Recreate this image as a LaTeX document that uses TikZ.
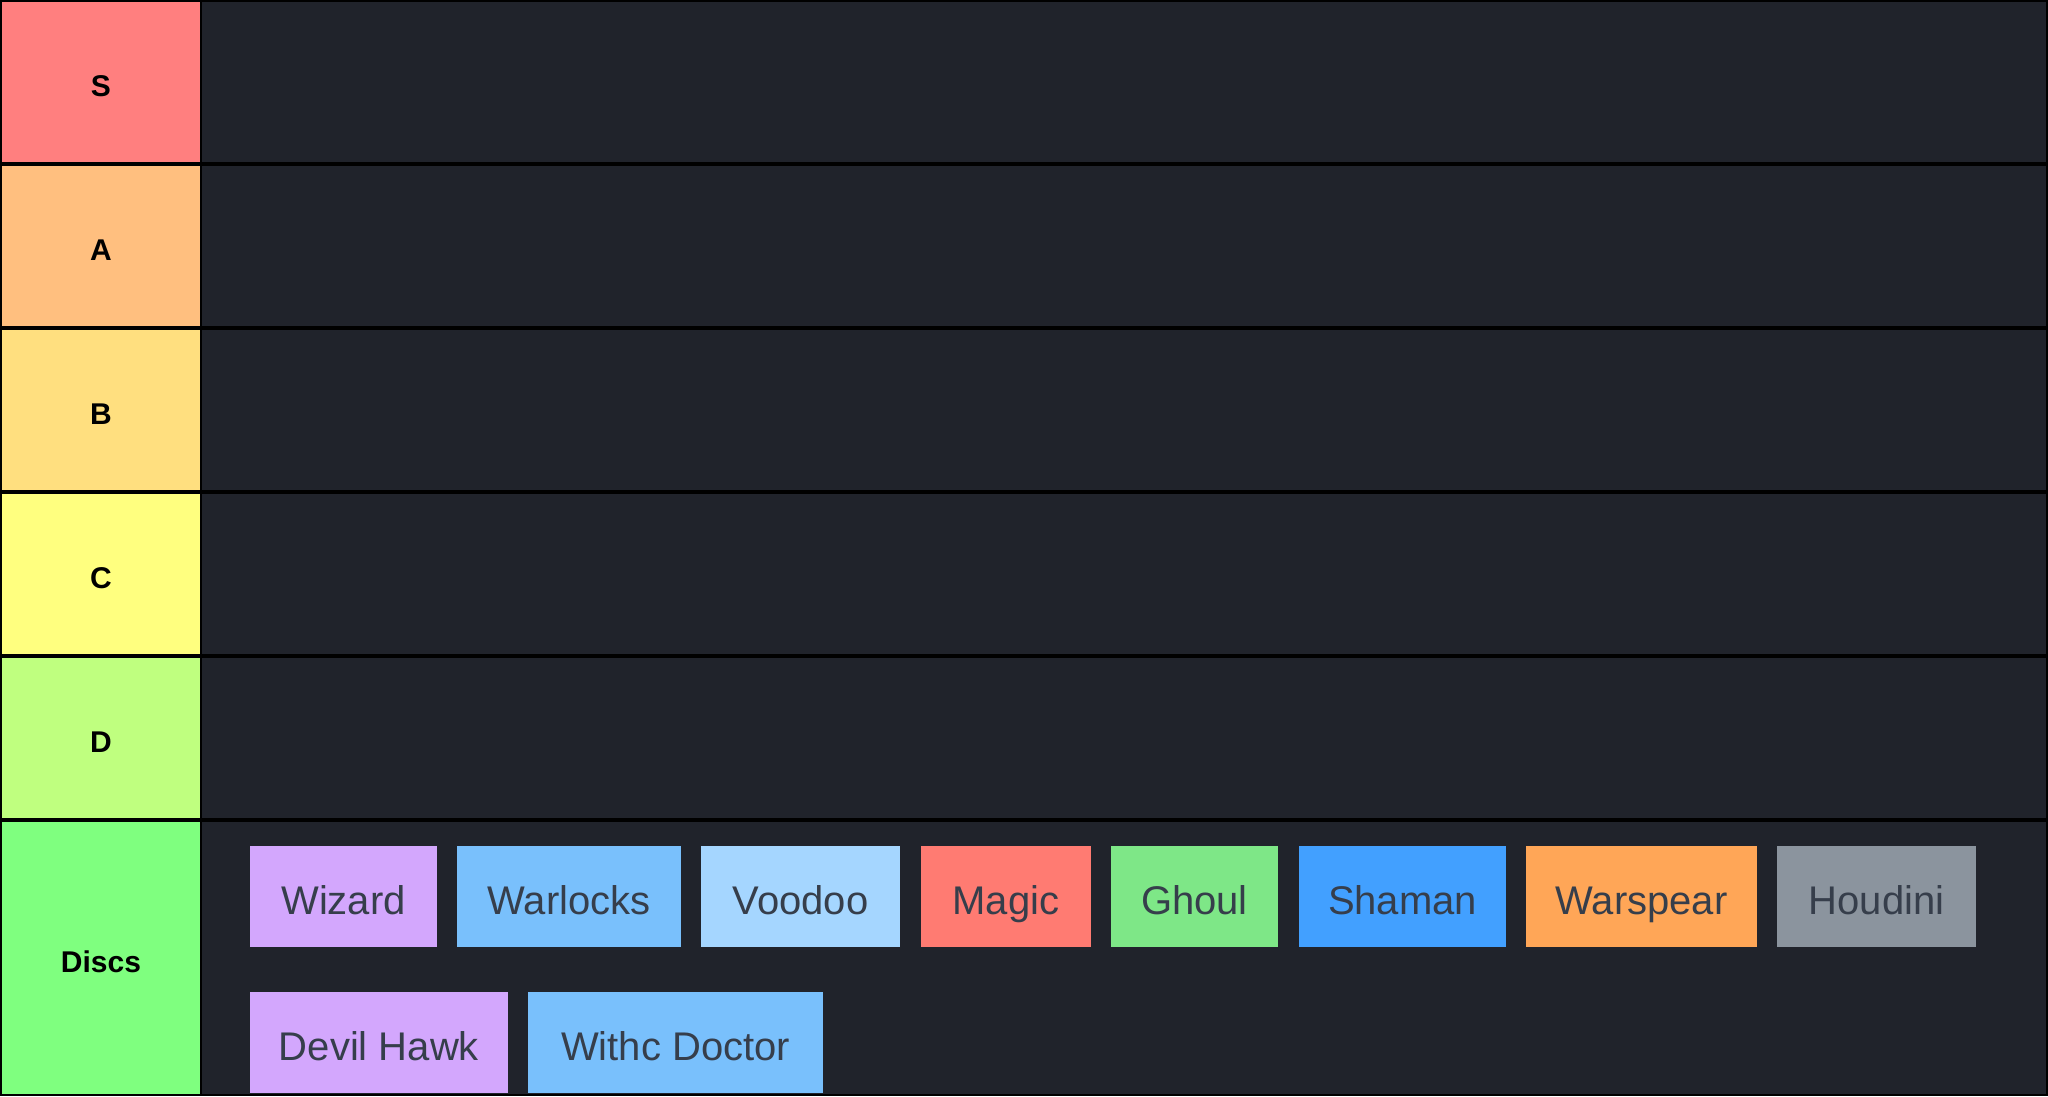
\documentclass[tikz,border=0pt]{standalone}
\usepackage{fontspec}
\setmainfont{Liberation Sans}
\definecolor{bgdark}{HTML}{20232B}
\definecolor{tS}{HTML}{FF7F7F}
\definecolor{tA}{HTML}{FFBF7F}
\definecolor{tB}{HTML}{FFDF7F}
\definecolor{tC}{HTML}{FFFF7F}
\definecolor{tD}{HTML}{BFFF7F}
\definecolor{tDiscs}{HTML}{7FFF7F}
\definecolor{cWizard}{HTML}{D3A7FD}
\definecolor{cWarlocks}{HTML}{79C0FC}
\definecolor{cVoodoo}{HTML}{A5D6FF}
\definecolor{cMagic}{HTML}{FF7B72}
\definecolor{cGhoul}{HTML}{7EE787}
\definecolor{cShaman}{HTML}{42A0FF}
\definecolor{cWarspear}{HTML}{FFA657}
\definecolor{cHoudini}{HTML}{8B949E}
\definecolor{itemtext}{HTML}{363E4B}
\tikzset{
  tierlab/.style={anchor=north west, inner sep=0pt, outer sep=0pt,
    minimum width=198pt, minimum height=160pt, text height=28pt, text depth=0pt,
    font=\fontsize{30}{36}\selectfont\bfseries, text=black},
  tierrow/.style={anchor=north west, inner sep=0pt, outer sep=0pt, fill=bgdark,
    minimum width=1844pt, minimum height=160pt},
  item/.style={anchor=north west, inner sep=0pt, outer sep=0pt,
    minimum height=101pt, text height=35pt, text depth=0pt,
    font=\fontsize{40}{48}\selectfont, text=itemtext}
}
\begin{document}
\begin{tikzpicture}[x=1pt,y=-1pt]
\fill[black] (0,0) rectangle (2048,1096);
\useasboundingbox (0,0) rectangle (2048,1096);
% tier labels
\node[tierlab, fill=tS] (labS) at (2,2) {S};
\node[tierlab, fill=tA] (labA) at (2,166) {A};
\node[tierlab, fill=tB] (labB) at (2,330) {B};
\node[tierlab, fill=tC] (labC) at (2,494) {C};
\node[tierlab, fill=tD] (labD) at (2,658) {D};
\node[tierlab, fill=tDiscs, minimum height=272pt] (labDiscs) at (2,822) {Discs};
% tier rows
\node[tierrow] (rowS) at (202,2) {};
\node[tierrow] (rowA) at (202,166) {};
\node[tierrow] (rowB) at (202,330) {};
\node[tierrow] (rowC) at (202,494) {};
\node[tierrow] (rowD) at (202,658) {};
\node[tierrow, minimum height=272pt] (rowDiscs) at (202,822) {};
% items row 1
\node[item, fill=cWizard, minimum width=187pt] (wizard) at (250,846) {Wizard};
\node[item, fill=cWarlocks, minimum width=224pt] (warlocks) at (457,846) {Warlocks};
\node[item, fill=cVoodoo, minimum width=199pt] (voodoo) at (701,846) {Voodoo};
\node[item, fill=cMagic, minimum width=170pt] (magic) at (921,846) {Magic};
\node[item, fill=cGhoul, minimum width=167pt] (ghoul) at (1111,846) {Ghoul};
\node[item, fill=cShaman, minimum width=207pt] (shaman) at (1299,846) {Shaman};
\node[item, fill=cWarspear, minimum width=231pt] (warspear) at (1526,846) {Warspear};
\node[item, fill=cHoudini, minimum width=199pt] (houdini) at (1777,846) {Houdini};
% items row 2
\node[item, fill=cWizard, minimum width=258pt] (devilhawk) at (250,992) {Devil Hawk};
\node[item, fill=cWarlocks, minimum width=295pt] (withcdoctor) at (528,992) {Withc Doctor};
\end{tikzpicture}
\end{document}
